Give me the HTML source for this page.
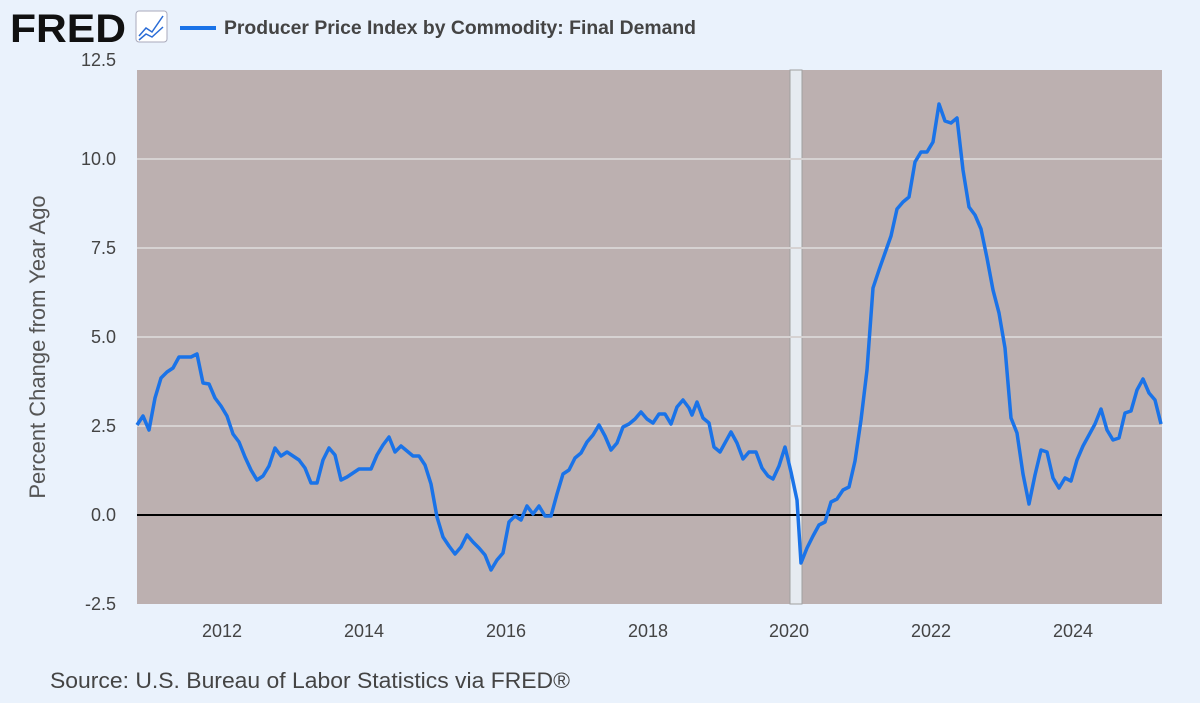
<!DOCTYPE html>
<html><head><style>
body{margin:0;width:1200px;height:698px;background:#eaf2fc;overflow:hidden;font-family:"Liberation Sans",sans-serif}
</style></head><body>
<svg width="1200" height="698" xmlns="http://www.w3.org/2000/svg" font-family="Liberation Sans, sans-serif">
<rect x="0" y="0" width="1200" height="698" fill="#eaf2fc"/>
<text x="10" y="42" font-size="40" font-weight="bold" fill="#111" textLength="116" lengthAdjust="spacingAndGlyphs">FRED</text>
<rect x="136" y="11" width="31" height="31" rx="3" fill="#fff" stroke="#aab" />
<polyline points="139,36 146,28 152,32 163,16" fill="none" stroke="#2a6cd6" stroke-width="1.5"/>
<polyline points="139,40 146,34 152,37 163,27" fill="none" stroke="#2a6cd6" stroke-width="1.5"/>
<line x1="180" y1="28" x2="216" y2="28" stroke="#1a73e8" stroke-width="4"/>
<text x="224" y="34" font-size="19" font-weight="bold" fill="#444" textLength="472" lengthAdjust="spacingAndGlyphs">Producer Price Index by Commodity: Final Demand</text>
<rect x="137" y="70" width="1025" height="534" fill="#bcb0b0"/>
<rect x="790" y="70" width="12" height="534" fill="#e6ebf1" stroke="#a0a0a0" stroke-width="1"/>
<g stroke="#d6d2d2" stroke-width="2">
<line x1="137" y1="159" x2="1162" y2="159"/><line x1="137" y1="248" x2="1162" y2="248"/>
<line x1="137" y1="337" x2="1162" y2="337"/><line x1="137" y1="426" x2="1162" y2="426"/>
</g>
<line x1="137" y1="515" x2="1162" y2="515" stroke="#000" stroke-width="2"/>
<g font-size="18" fill="#444" text-anchor="end">
<text x="116" y="66">12.5</text><text x="116" y="165">10.0</text><text x="116" y="254">7.5</text>
<text x="116" y="343">5.0</text><text x="116" y="432">2.5</text><text x="116" y="521">0.0</text><text x="116" y="610">-2.5</text>
</g>
<g font-size="18" fill="#444" text-anchor="middle">
<text x="222" y="637">2012</text><text x="364" y="637">2014</text><text x="506" y="637">2016</text>
<text x="648" y="637">2018</text><text x="789" y="637">2020</text><text x="931" y="637">2022</text><text x="1073" y="637">2024</text>
</g>
<text transform="translate(45,347) rotate(-90)" font-size="22" fill="#555" text-anchor="middle">Percent Change from Year Ago</text>
<text x="50" y="688" font-size="22" fill="#444" textLength="520" lengthAdjust="spacingAndGlyphs">Source: U.S. Bureau of Labor Statistics via FRED®</text>
<polyline fill="none" stroke="#1a73e8" stroke-width="3.5" stroke-linejoin="round" points="137,425 143,416 149,430 155,398 161,378 167,372 173,368 179,357 185,357 191,357 197,354 203,383 209,384 215,398 221,406 227,416 233,434 239,442 245,457 251,470 257,480 263,476 269,466 275,448 281,456 287,452 293,456 299,460 305,468 311,483 317,483 323,460 329,448 335,455 341,480 347,477 353,473 359,469 365,469 371,469 377,455 383,445 389,437 395,452 401,446 407,451 413,456 419,456 425,465 431,484 437,517 443,537 449,546 455,554 461,547 467,535 473,542 479,548 485,555 491,570 497,560 503,553 509,522 515,516 521,520 527,506 533,514 539,506 545,516 551,516 557,494 563,474 569,470 575,458 581,453 587,442 593,435 599,425 605,436 611,450 617,443 623,427 629,424 635,419 641,412 647,419 653,423 659,414 665,414 671,424 677,407 683,400 689,408 692,415 697,402 703,418 709,423 714,447 720,452 731,432 737,443 743,459 749,452 756,452 762,468 768,476 773,479 779,466 785,447 791,472 797,500 801,563 807,548 813,536 819,525 825,522 831,502 837,499 843,490 849,487 855,461 861,420 867,370 873,288 879,270 885,253 891,236 897,209 903,202 909,197 915,162 921,152 927,152 933,142 939,104 945,121 951,123 957,118 963,170 969,207 975,215 981,229 987,258 993,290 999,313 1005,348 1011,418 1017,433 1023,474 1029,504 1035,475 1041,450 1047,452 1053,478 1059,488 1065,478 1071,481 1077,460 1083,446 1089,435 1095,424 1101,409 1107,430 1113,440 1119,438 1125,413 1131,411 1137,390 1143,379 1149,393 1155,400 1161,424"/>
</svg>
</body></html>
